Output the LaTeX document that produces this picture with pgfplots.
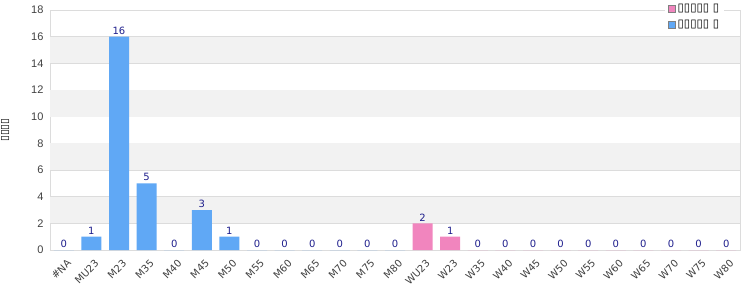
\documentclass[border=0pt]{standalone}
\usepackage{pgfplots}
\pgfplotsset{compat=1.18}
\usepackage{fontspec}
\setmainfont{DejaVu Sans}
\newfontfamily\tickfont{Liberation Sans}
\definecolor{mblue}{RGB}{96,168,245}
\definecolor{wpink}{RGB}{241,133,190}
\definecolor{lblcol}{RGB}{30,30,140}
\definecolor{band}{RGB}{242,242,242}
\definecolor{frame}{RGB}{220,220,220}
\begin{document}
\begin{tikzpicture}
\path[use as bounding box] (-50pt,-50pt) rectangle (700pt,250pt);
\begin{axis}[
  at={(0,0)}, anchor=south west,
  scale only axis, width=690pt, height=240pt,
  ybar, bar width=20pt, bar shift=0pt,
  xmin=-0.5, xmax=24.5, ymin=0, ymax=18,
  ytick={0,2,...,18},
  xtick={0,...,24},
  xticklabels={\#NA,MU23,M23,M35,M40,M45,M50,M55,M60,M65,M70,M75,M80,WU23,W23,W35,W40,W45,W50,W55,W60,W65,W70,W75,W80},
  x tick label style={rotate=45, anchor=north east, font=\fontsize{10}{10}\selectfont, text=black!75, inner sep=1pt, yshift=-7pt, xshift=-3pt},
  y tick label style={font=\tickfont\fontsize{11}{12}\selectfont, text=black!75, xshift=-3pt},
  /pgf/number format/assume math mode=true,
  major tick length=0pt,
  ymajorgrids, grid style={frame, line width=0.6pt},
  axis line style={frame, line width=0.8pt},
  ylabel={▯▯▯▯},
  ylabel style={font=\fontsize{10.5}{10}\selectfont, at={(axis description cs:-0.065,0.5)}, anchor=center},
  nodes near coords,
  nodes near coords style={font=\fontsize{10}{10}\selectfont, text=lblcol, inner sep=2pt},
  legend style={at={(0.992,1.045)}, xshift=-10pt, anchor=north east, draw=none, fill=white, font=\fontsize{11.5}{11}\selectfont, row sep=3pt, inner sep=3pt},
  legend cell align=left,
  legend image code/.code={\draw[#1, draw=black!50, line width=0.5pt] (0pt,-3.5pt) rectangle (7pt,3.5pt);},
  clip=false,
]
\fill[band] (axis cs:-0.5,2) rectangle (axis cs:24.5,4);
\fill[band] (axis cs:-0.5,6) rectangle (axis cs:24.5,8);
\fill[band] (axis cs:-0.5,10) rectangle (axis cs:24.5,12);
\fill[band] (axis cs:-0.5,14) rectangle (axis cs:24.5,16);
\addplot[fill=wpink, draw=none] coordinates {(13,2) (14,1) (15,0) (16,0) (17,0) (18,0) (19,0) (20,0) (21,0) (22,0) (23,0) (24,0)};
\addplot[fill=mblue, draw=none] coordinates {(0,0) (1,1) (2,16) (3,5) (4,0) (5,3) (6,1) (7,0) (8,0) (9,0) (10,0) (11,0) (12,0)};
\legend{▯▯▯▯▯ ▯,▯▯▯▯▯ ▯}
\end{axis}
\end{tikzpicture}
\end{document}
